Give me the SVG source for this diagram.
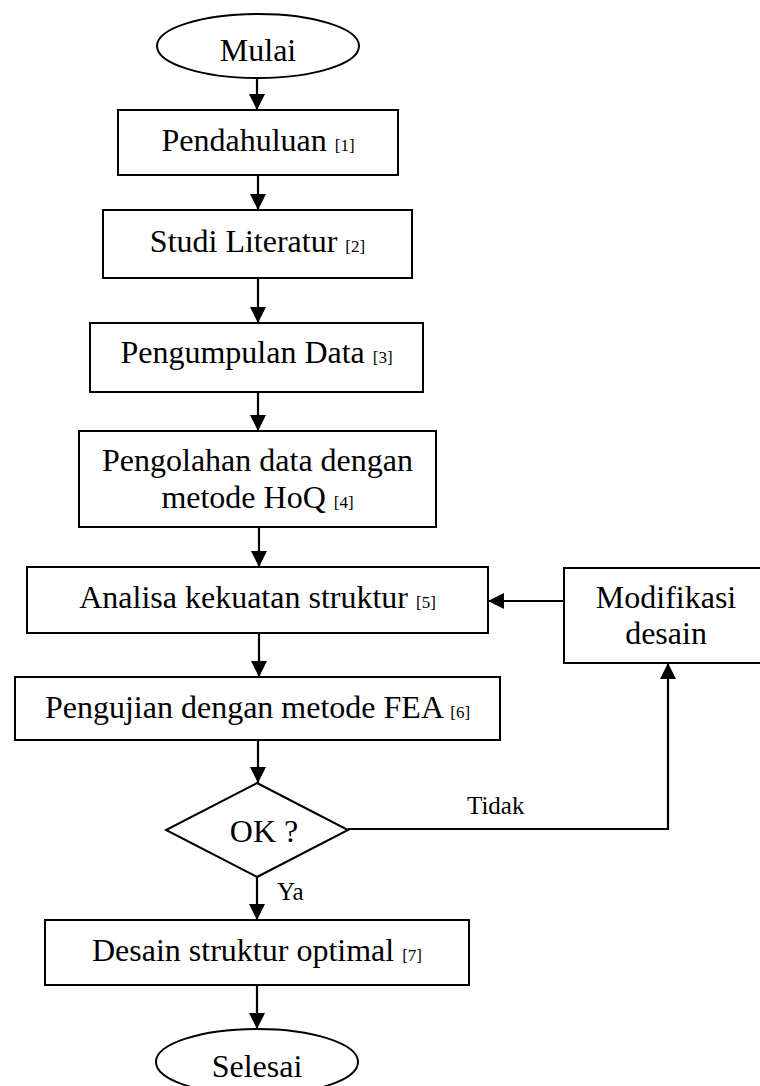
<svg xmlns="http://www.w3.org/2000/svg" width="760" height="1086" viewBox="0 0 760 1086">
<style>
.box{fill:#fff;stroke:#000;stroke-width:2}
.t{font-family:"Liberation Serif","Times New Roman",serif;font-size:32px;fill:#000;text-anchor:middle}
.s{font-size:17px}
.lbl{font-family:"Liberation Serif","Times New Roman",serif;font-size:25px;fill:#000}
.c{fill:none;stroke:#000;stroke-width:2.2}
</style>
<defs>
<marker id="ah" viewBox="0 0 16 16" refX="16" refY="8" markerWidth="16" markerHeight="16" markerUnits="userSpaceOnUse" orient="auto">
<path d="M0,0 L16,8 L0,16 z" fill="#000"/>
</marker>
</defs>
<rect width="760" height="1086" fill="#fff"/>
<g id="connectors">
<line class="c" x1="257" y1="78" x2="257" y2="110" marker-end="url(#ah)"/>
<line class="c" x1="258" y1="175" x2="258" y2="210" marker-end="url(#ah)"/>
<line class="c" x1="258" y1="278" x2="258" y2="323" marker-end="url(#ah)"/>
<line class="c" x1="258" y1="392" x2="258" y2="431" marker-end="url(#ah)"/>
<line class="c" x1="259" y1="527" x2="259" y2="567" marker-end="url(#ah)"/>
<line class="c" x1="259" y1="633" x2="259" y2="677" marker-end="url(#ah)"/>
<line class="c" x1="258" y1="740" x2="258" y2="783" marker-end="url(#ah)"/>
<line class="c" x1="257" y1="877" x2="257" y2="920" marker-end="url(#ah)"/>
<line class="c" x1="257" y1="985" x2="257" y2="1029" marker-end="url(#ah)"/>
<polyline class="c" points="348,829 668,829 668,663" marker-end="url(#ah)"/>
<line class="c" x1="564" y1="601" x2="488" y2="601" marker-end="url(#ah)"/>
<text class="lbl" x="467" y="814">Tidak</text>
<text class="lbl" x="277" y="900">Ya</text>
</g>
<g id="mulai">
<ellipse class="box" cx="258" cy="46" rx="101" ry="32"/>
<text class="t" x="258" y="61">Mulai</text>
</g>
<g id="pendahuluan">
<rect class="box" x="118" y="110" width="280" height="65"/>
<text class="t" x="258" y="151">Pendahuluan <tspan class="s">[1]</tspan></text>
</g>
<g id="studi">
<rect class="box" x="103" y="210" width="309" height="68"/>
<text class="t" x="257.5" y="252">Studi Literatur <tspan class="s">[2]</tspan></text>
</g>
<g id="pengumpulan">
<rect class="box" x="90" y="323" width="333" height="69"/>
<text class="t" x="256.5" y="363">Pengumpulan Data <tspan class="s">[3]</tspan></text>
</g>
<g id="pengolahan">
<rect class="box" x="79" y="431" width="357" height="96"/>
<text class="t" x="257.5" y="471">Pengolahan data dengan</text>
<text class="t" x="257.5" y="508">metode HoQ <tspan class="s">[4]</tspan></text>
</g>
<g id="analisa">
<rect class="box" x="27" y="567" width="461" height="66"/>
<text class="t" x="257.5" y="608">Analisa kekuatan struktur <tspan class="s">[5]</tspan></text>
</g>
<g id="modifikasi">
<rect class="box" x="564" y="568" width="206" height="95"/>
<text class="t" x="666" y="608">Modifikasi</text>
<text class="t" x="666" y="644">desain</text>
</g>
<g id="pengujian">
<rect class="box" x="15" y="677" width="485" height="63"/>
<text class="t" x="257.5" y="718">Pengujian dengan metode FEA <tspan class="s">[6]</tspan></text>
</g>
<g id="ok">
<polygon class="box" points="257,783 348,830 257,877 166,830"/>
<text class="t" x="264" y="842">OK ?</text>
</g>
<g id="desain">
<rect class="box" x="45" y="920" width="424" height="65"/>
<text class="t" x="257" y="961">Desain struktur optimal <tspan class="s">[7]</tspan></text>
</g>
<g id="selesai">
<ellipse class="box" cx="257" cy="1062" rx="101" ry="33"/>
<text class="t" x="257" y="1077">Selesai</text>
</g>
</svg>
